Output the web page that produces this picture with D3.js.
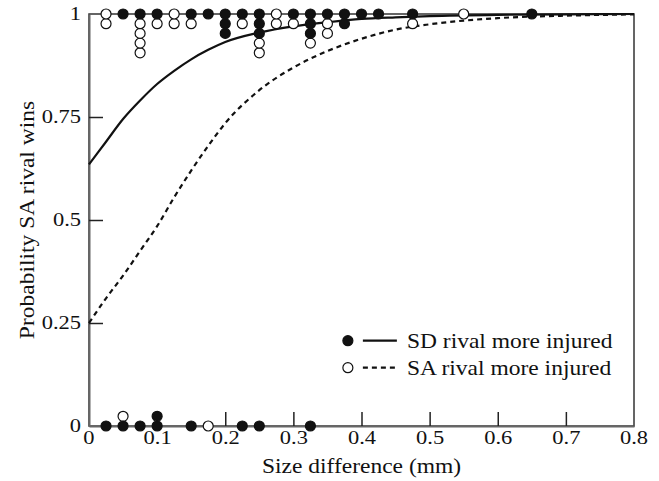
<!DOCTYPE html>
<html>
<head>
<meta charset="utf-8">
<script src="https://cdn.jsdelivr.net/npm/d3@7"></script>
<style>
  body { margin: 0; background: #fff; }
  text { font-family: "Liberation Serif", "Times New Roman", serif; fill: #111; }
</style>
</head>
<body>
<script>
// axis ticks
const xTicks = [0, 0.1, 0.2, 0.3, 0.4, 0.5, 0.6, 0.7, 0.8];
const xTickLabels = ["0", "0.1", "0.2", "0.3", "0.4", "0.5", "0.6", "0.7", "0.8"];
const yTicks = [0, 0.25, 0.5, 0.75, 1];
const yTickLabels = ["0", "0.25", "0.5", "0.75", "1"];

// observed contests (one entry per contest), y = 1 SA rival won, y = 0 SA rival lost
const sdInjuredWins = [0.05, 0.075, 0.1, 0.15, 0.175, 0.2, 0.2, 0.2, 0.225, 0.25, 0.25, 0.25,
                       0.3, 0.325, 0.325, 0.325, 0.35, 0.375, 0.375, 0.4, 0.425, 0.475, 0.65];
const saInjuredWins = [0.025, 0.025, 0.075, 0.075, 0.075, 0.075, 0.1, 0.125, 0.125, 0.15,
                       0.225, 0.25, 0.25, 0.275, 0.275, 0.3, 0.325, 0.35, 0.35, 0.475, 0.55];
const sdInjuredLosses = [0.025, 0.05, 0.075, 0.1, 0.1, 0.15, 0.225, 0.25, 0.325];
const saInjuredLosses = [0.05, 0.175];

// fitted curves
const curveX = [0, 0.025, 0.05, 0.075, 0.1, 0.125, 0.15, 0.175, 0.2, 0.25, 0.3, 0.35, 0.4, 0.45, 0.5, 0.6, 0.7, 0.8];
const sdCurve = [0.635, 0.69, 0.745, 0.79, 0.83, 0.862, 0.89, 0.913, 0.932, 0.955, 0.97, 0.98, 0.988, 0.992, 0.995, 0.998, 0.999, 1.0];
const saCurve = [0.25, 0.31, 0.365, 0.425, 0.485, 0.555, 0.62, 0.68, 0.735, 0.815, 0.87, 0.91, 0.94, 0.962, 0.975, 0.99, 0.996, 0.999];

const legendLabels = ["SD rival more injured", "SA rival more injured"];

const W = 659, H = 481;
const margin = {top: 14, right: 25, bottom: 55, left: 89};
const width = W - margin.left - margin.right;
const height = H - margin.top - margin.bottom;

// the original type is wider than Liberation Serif, so text gets a horizontal stretch
const tickStretch = 1.25, titleStretch = 1.12;
function stretch(sel, sx) {
  sel.each(function() {
    const t = d3.select(this);
    const x = +t.attr("x") || 0;
    t.attr("x", x / sx).attr("transform", `scale(${sx},1)`);
  });
}

const xScale = d3.scaleLinear().domain([0, 0.8]).range([0, width]);
const yScale = d3.scaleLinear().domain([0, 1]).range([height, 0]);

const svg = d3.select("body").append("svg")
    .attr("width", W)
    .attr("height", H)
  .append("g")
    .attr("transform", `translate(${margin.left},${margin.top})`);

// frame
svg.append("rect")
    .attr("width", width)
    .attr("height", height)
    .attr("fill", "none")
    .attr("stroke", "#333")
    .attr("stroke-width", 1.5);

// axes with inward ticks
const xAxis = d3.axisBottom(xScale)
    .tickValues(xTicks.slice(1, -1))
    .tickFormat(d => xTickLabels[xTicks.indexOf(d)])
    .tickSizeInner(-14).tickSizeOuter(0).tickPadding(5);
const gx = svg.append("g")
    .attr("transform", `translate(0,${height})`)
    .call(xAxis);
// end labels (0 and 0.8) sit on the frame corners
gx.selectAll(".end")
    .data([0, 0.8])
  .enter().append("g")
    .attr("class", "end")
    .attr("transform", d => `translate(${xScale(d)},0)`)
  .append("text")
    .attr("y", 5)
    .attr("dy", "0.71em")
    .attr("text-anchor", "middle")
    .text(d => xTickLabels[xTicks.indexOf(d)]);

const yAxis = d3.axisLeft(yScale)
    .tickValues(yTicks)
    .tickFormat(d => yTickLabels[yTicks.indexOf(d)])
    .tickSizeInner(-14).tickSizeOuter(0).tickPadding(8);
const gy = svg.append("g").call(yAxis);

[gx, gy].forEach(g => {
  g.select(".domain").attr("stroke", "#666").attr("stroke-width", 2);
  g.selectAll(".tick line").attr("stroke", "#222").attr("stroke-width", 1.5);
  g.selectAll("text").style("font-size", "18px").attr("fill", "#111");
  stretch(g.selectAll("text"), tickStretch);
});
gy.selectAll(".tick").filter(d => d === 0 || d === 1).select("line").remove();
gy.selectAll(".tick text").attr("dy", "0.32em");

// axis titles
svg.append("text")
    .attr("transform", `translate(${width / 2},${height + 47}) scale(${titleStretch},1)`)
    .attr("text-anchor", "middle")
    .style("font-size", "21px")
    .text("Size difference (mm)");

svg.append("text")
    .attr("transform", `translate(${-55},${height / 2}) rotate(-90) scale(${titleStretch},1)`)
    .attr("text-anchor", "middle")
    .style("font-size", "21px")
    .text("Probability SA rival wins");

// fitted lines
const line = d3.line()
    .x(d => xScale(d[0]))
    .y(d => yScale(d[1]))
    .curve(d3.curveMonotoneX);

svg.append("path")
    .datum(curveX.map((x, i) => [x, sdCurve[i]]))
    .attr("fill", "none")
    .attr("stroke", "#111")
    .attr("stroke-width", 2.2)
    .attr("d", line);

svg.append("path")
    .datum(curveX.map((x, i) => [x, saCurve[i]]))
    .attr("fill", "none")
    .attr("stroke", "#111")
    .attr("stroke-width", 2.2)
    .attr("stroke-dasharray", "5,4")
    .attr("d", line);

// stacked points: filled first, then open; stacks grow away from the 0/1 line
const step = 9.7;
function stackPoints(filled, open, outcome) {
  const counts = {};
  const pts = [];
  filled.map(x => ({x, filled: true})).concat(open.map(x => ({x, filled: false})))
    .forEach(p => {
      const k = p.x.toFixed(3);
      const n = counts[k] || 0;
      counts[k] = n + 1;
      pts.push({x: p.x, y: outcome, filled: p.filled, level: n});
    });
  return pts;
}
const points = stackPoints(sdInjuredWins, saInjuredWins, 1)
    .concat(stackPoints(sdInjuredLosses, saInjuredLosses, 0));

svg.selectAll("circle.pt")
    .data(points.slice().reverse())
  .enter().append("circle")
    .attr("class", "pt")
    .attr("r", 5)
    .attr("cx", d => xScale(d.x))
    .attr("cy", d => yScale(d.y) + (d.y === 1 ? 1 : -1) * d.level * step)
    .attr("fill", d => d.filled ? "#111" : "#fff")
    .attr("stroke", "#111")
    .attr("stroke-width", 1.2);

// legend
const legend = svg.append("g")
    .attr("transform", `translate(${xScale(0.38)},${yScale(0.207)})`);
const rows = legend.selectAll("g")
    .data(legendLabels)
  .enter().append("g")
    .attr("transform", (d, i) => `translate(0,${i * 27})`);
rows.append("circle")
    .attr("r", 5)
    .attr("fill", (d, i) => i === 0 ? "#111" : "#fff")
    .attr("stroke", "#111")
    .attr("stroke-width", 1.2);
rows.append("line")
    .attr("x1", 15).attr("x2", 49)
    .attr("stroke", "#111")
    .attr("stroke-width", 2.2)
    .attr("stroke-dasharray", (d, i) => i === 0 ? null : "5,4");
rows.append("text")
    .attr("transform", `translate(59,0) scale(${titleStretch},1)`)
    .attr("dy", "0.33em")
    .style("font-size", "21px")
    .text(d => d);
</script>
</body>
</html>
